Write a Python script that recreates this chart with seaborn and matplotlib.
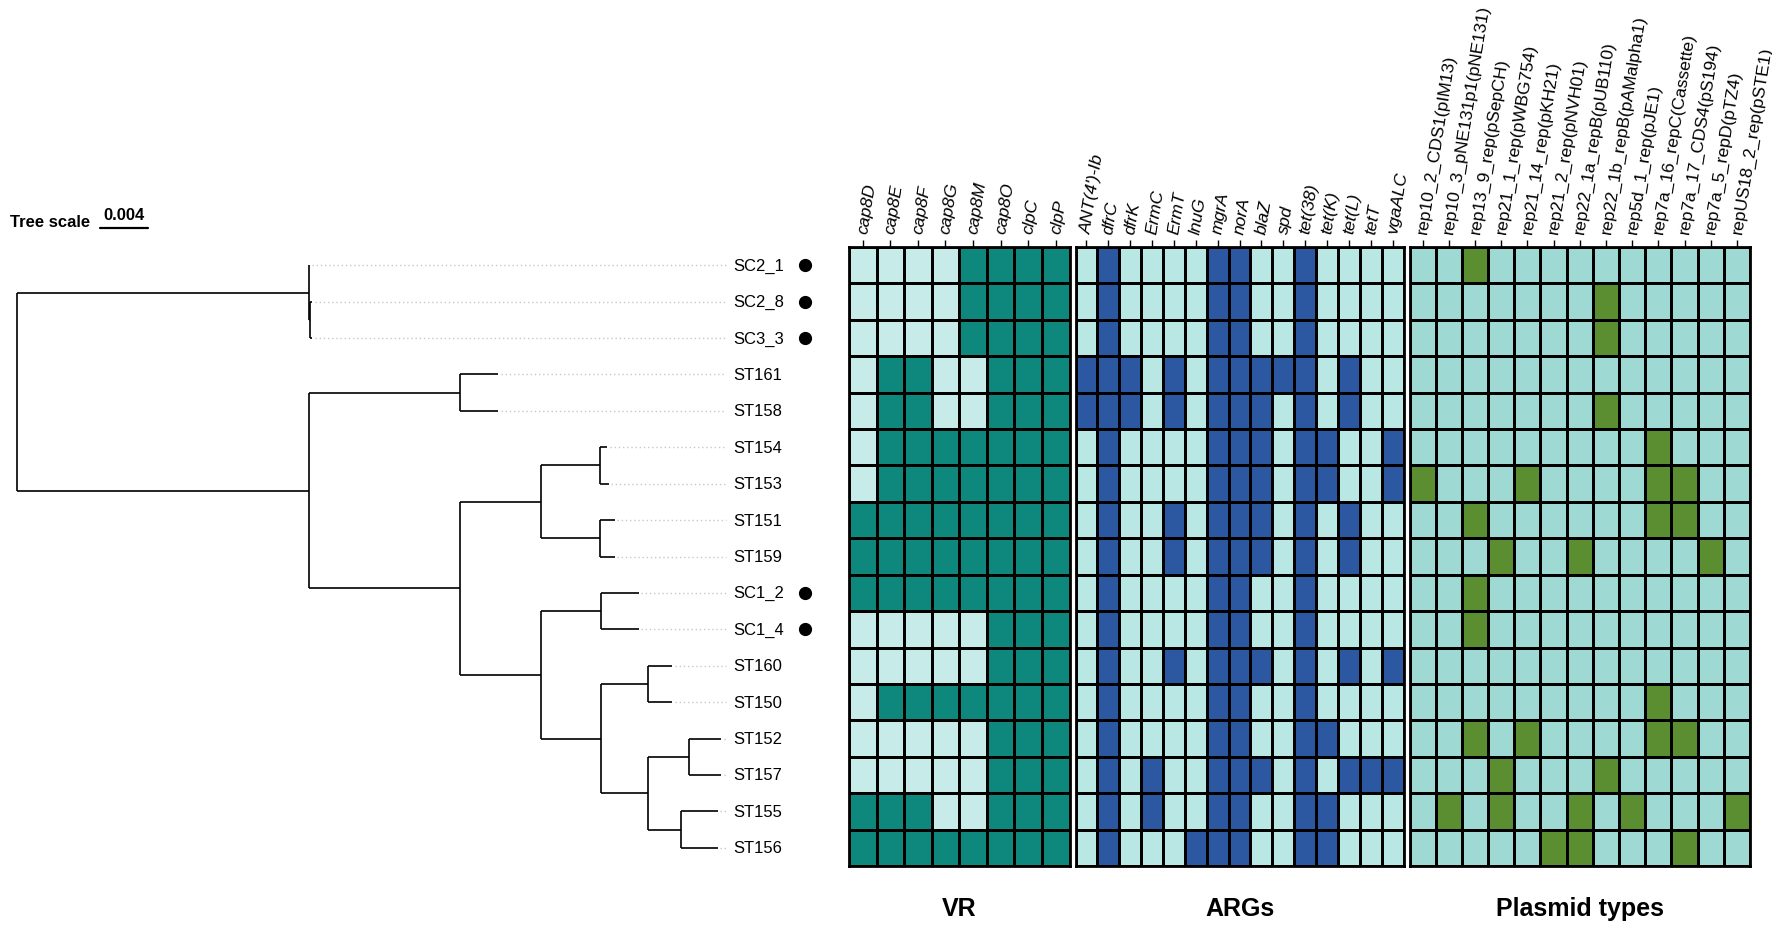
import numpy as np
import pandas as pd
import seaborn as sns
import matplotlib
matplotlib.use('Agg')
from matplotlib import pyplot as plt
from matplotlib.colors import ListedColormap

# ---- data ----
rows = ['SC2_1', 'SC2_8', 'SC3_3', 'ST161', 'ST158', 'ST154', 'ST153', 'ST151',
        'ST159', 'SC1_2', 'SC1_4', 'ST160', 'ST150', 'ST152', 'ST157', 'ST155', 'ST156']
marked = ['SC2_1', 'SC2_8', 'SC3_3', 'SC1_2', 'SC1_4']

vr_cols = ['cap8D', 'cap8E', 'cap8F', 'cap8G', 'cap8M', 'cap8O', 'clpC', 'clpP']
vr = [[0, 0, 0, 0, 1, 1, 1, 1],
      [0, 0, 0, 0, 1, 1, 1, 1],
      [0, 0, 0, 0, 1, 1, 1, 1],
      [0, 1, 1, 0, 0, 1, 1, 1],
      [0, 1, 1, 0, 0, 1, 1, 1],
      [0, 1, 1, 1, 1, 1, 1, 1],
      [0, 1, 1, 1, 1, 1, 1, 1],
      [1, 1, 1, 1, 1, 1, 1, 1],
      [1, 1, 1, 1, 1, 1, 1, 1],
      [1, 1, 1, 1, 1, 1, 1, 1],
      [0, 0, 0, 0, 0, 1, 1, 1],
      [0, 0, 0, 0, 0, 1, 1, 1],
      [0, 1, 1, 1, 1, 1, 1, 1],
      [0, 0, 0, 0, 0, 1, 1, 1],
      [0, 0, 0, 0, 0, 1, 1, 1],
      [1, 1, 1, 0, 0, 1, 1, 1],
      [1, 1, 1, 1, 1, 1, 1, 1]]

arg_cols = ["ANT(4')-Ib", 'dfrC', 'dfrK', 'ErmC', 'ErmT', 'lnuG', 'mgrA', 'norA',
            'blaZ', 'spd', 'tet(38)', 'tet(K)', 'tet(L)', 'tetT', 'vgaALC']
args = [[0, 1, 0, 0, 0, 0, 1, 1, 0, 0, 1, 0, 0, 0, 0],
        [0, 1, 0, 0, 0, 0, 1, 1, 0, 0, 1, 0, 0, 0, 0],
        [0, 1, 0, 0, 0, 0, 1, 1, 0, 0, 1, 0, 0, 0, 0],
        [1, 1, 1, 0, 1, 0, 1, 1, 1, 1, 1, 0, 1, 0, 0],
        [1, 1, 1, 0, 1, 0, 1, 1, 1, 0, 1, 0, 1, 0, 0],
        [0, 1, 0, 0, 0, 0, 1, 1, 1, 0, 1, 1, 0, 0, 1],
        [0, 1, 0, 0, 0, 0, 1, 1, 1, 0, 1, 1, 0, 0, 1],
        [0, 1, 0, 0, 1, 0, 1, 1, 1, 0, 1, 0, 1, 0, 0],
        [0, 1, 0, 0, 1, 0, 1, 1, 1, 0, 1, 0, 1, 0, 0],
        [0, 1, 0, 0, 0, 0, 1, 1, 0, 0, 1, 0, 0, 0, 0],
        [0, 1, 0, 0, 0, 0, 1, 1, 0, 0, 1, 0, 0, 0, 0],
        [0, 1, 0, 0, 1, 0, 1, 1, 1, 0, 1, 0, 1, 0, 1],
        [0, 1, 0, 0, 0, 0, 1, 1, 0, 0, 1, 0, 0, 0, 0],
        [0, 1, 0, 0, 0, 0, 1, 1, 0, 0, 1, 1, 0, 0, 0],
        [0, 1, 0, 1, 0, 0, 1, 1, 1, 0, 1, 0, 1, 1, 1],
        [0, 1, 0, 1, 0, 0, 1, 1, 0, 0, 1, 1, 0, 0, 0],
        [0, 1, 0, 0, 0, 1, 1, 1, 0, 0, 1, 1, 0, 0, 0]]

plasmid_cols = ['rep10_2_CDS1(pIM13)', 'rep10_3_pNE131p1(pNE131)', 'rep13_9_rep(pSepCH)',
                'rep21_1_rep(pWBG754)', 'rep21_14_rep(pKH21)', 'rep21_2_rep(pNVH01)',
                'rep22_1a_repB(pUB110)', 'rep22_1b_repB(pAMalpha1)', 'rep5d_1_rep(pJE1)',
                'rep7a_16_repC(Cassette)', 'rep7a_17_CDS4(pS194)', 'rep7a_5_repD(pTZ4)',
                'repUS18_2_rep(pSTE1)']
plasmids = [[0, 0, 1, 0, 0, 0, 0, 0, 0, 0, 0, 0, 0],
            [0, 0, 0, 0, 0, 0, 0, 1, 0, 0, 0, 0, 0],
            [0, 0, 0, 0, 0, 0, 0, 1, 0, 0, 0, 0, 0],
            [0, 0, 0, 0, 0, 0, 0, 0, 0, 0, 0, 0, 0],
            [0, 0, 0, 0, 0, 0, 0, 1, 0, 0, 0, 0, 0],
            [0, 0, 0, 0, 0, 0, 0, 0, 0, 1, 0, 0, 0],
            [1, 0, 0, 0, 1, 0, 0, 0, 0, 1, 1, 0, 0],
            [0, 0, 1, 0, 0, 0, 0, 0, 0, 1, 1, 0, 0],
            [0, 0, 0, 1, 0, 0, 1, 0, 0, 0, 0, 1, 0],
            [0, 0, 1, 0, 0, 0, 0, 0, 0, 0, 0, 0, 0],
            [0, 0, 1, 0, 0, 0, 0, 0, 0, 0, 0, 0, 0],
            [0, 0, 0, 0, 0, 0, 0, 0, 0, 0, 0, 0, 0],
            [0, 0, 0, 0, 0, 0, 0, 0, 0, 1, 0, 0, 0],
            [0, 0, 1, 0, 1, 0, 0, 0, 0, 1, 1, 0, 0],
            [0, 0, 0, 1, 0, 0, 0, 1, 0, 0, 0, 0, 0],
            [0, 1, 0, 1, 0, 0, 1, 0, 1, 0, 0, 0, 1],
            [0, 0, 0, 0, 0, 1, 1, 0, 0, 0, 1, 0, 0]]

# tree: internal nodes -> children, depths in substitutions/site
children = {'root': ['n_sc', 'n_st'], 'n_sc': ['SC2_1', 'n_sc2'], 'n_sc2': ['SC2_8', 'SC3_3'],
            'n_st': ['n_161', 'n_c'], 'n_161': ['ST161', 'ST158'], 'n_c': ['n_d', 'n_e'],
            'n_d': ['n_154', 'n_151'], 'n_154': ['ST154', 'ST153'], 'n_151': ['ST151', 'ST159'],
            'n_e': ['n_sc1', 'n_f'], 'n_sc1': ['SC1_2', 'SC1_4'], 'n_f': ['n_160', 'n_g'],
            'n_160': ['ST160', 'ST150'], 'n_g': ['n_152', 'n_155'],
            'n_152': ['ST152', 'ST157'], 'n_155': ['ST155', 'ST156']}
depth = {'root': 0.0, 'n_sc': 0.0243, 'n_sc2': 0.02445, 'n_st': 0.0243, 'n_161': 0.0369,
         'n_c': 0.0369, 'n_d': 0.0437, 'n_154': 0.0486, 'n_151': 0.0486, 'n_e': 0.0437,
         'n_sc1': 0.0487, 'n_f': 0.0487, 'n_160': 0.0526, 'n_g': 0.0526, 'n_152': 0.0560,
         'n_155': 0.0553,
         'SC2_1': 0.02435, 'SC2_8': 0.0246, 'SC3_3': 0.0246, 'ST161': 0.0401, 'ST158': 0.0401,
         'ST154': 0.0492, 'ST153': 0.0493, 'ST151': 0.0498, 'ST159': 0.0498, 'SC1_2': 0.0518,
         'SC1_4': 0.0518, 'ST160': 0.0546, 'ST150': 0.0546, 'ST152': 0.0587, 'ST157': 0.0587,
         'ST155': 0.0584, 'ST156': 0.0584}
tree_scale = 0.004

# ---- figure ----
sns.set_style('white')
plt.rcParams['font.family'] = ['Liberation Sans', 'DejaVu Sans']
plt.rcParams['text.color'] = 'black'
plt.rcParams['xtick.color'] = 'black'

W, H = 1772, 928
fig = plt.figure(figsize=(W / 100, H / 100), dpi=100)


def box(x0, x1, y0, y1):
    return [x0 / W, 1 - y1 / H, (x1 - x0) / W, (y1 - y0) / H]


top, bottom = 248, 867
px_per_unit = 12000.0


def block(data, cols, x0, x1, light, dark, title, style):
    ax = fig.add_axes(box(x0, x1, top, bottom))
    df = pd.DataFrame(data, index=rows, columns=cols)
    sns.heatmap(df, ax=ax, cmap=ListedColormap([light, dark]), vmin=0, vmax=1,
                cbar=False, linewidths=1.9, linecolor='black')
    ax.xaxis.tick_top()
    ax.set_xticks(np.arange(len(cols)) + 0.5)
    ax.set_xticklabels(cols, rotation=81, ha='left', va='center',
                       rotation_mode='anchor', fontsize=12.6, style=style, color='black')
    ax.tick_params(axis='x', length=5, width=1, pad=5, top=True, bottom=False,
                   color='black')
    ax.set_yticks([])
    ax.set_xlabel('')
    ax.set_ylabel('')
    for s in ax.spines.values():
        s.set_visible(True)
        s.set_linewidth(2.0)
        s.set_color('black')
    ax.text(0.5, -0.068, title, transform=ax.transAxes, ha='center', va='center',
            fontsize=18, fontweight='bold')
    return ax


block(vr, vr_cols, 849, 1069.5, '#c6ebe8', '#0e877d', 'VR', 'italic')
block(args, arg_cols, 1075.5, 1403.5, '#b9e8e4', '#2b58a0', 'ARGs', 'italic')
block(plasmids, plasmid_cols, 1409.5, 1750, '#9edad3', '#5b8d31', 'Plasmid types', 'normal')

# ---- tree ----
tax = fig.add_axes(box(0, 849, top, bottom))
tax.set_xlim(-17 / px_per_unit, 832 / px_per_unit)
tax.set_ylim(len(rows), 0)
tax.axis('off')

ypos = {name: i + 0.5 for i, name in enumerate(rows)}


def node_y(n):
    if n not in ypos:
        ypos[n] = np.mean([node_y(c) for c in children[n]])
    return ypos[n]


node_y('root')
for parent, kids in children.items():
    ys = [ypos[k] for k in kids]
    tax.plot([depth[parent]] * 2, [min(ys), max(ys)], color='black', lw=1.2,
             solid_capstyle='butt')
    for k in kids:
        tax.plot([depth[parent], depth[k]], [ypos[k]] * 2, color='black', lw=1.2,
                 solid_capstyle='butt')

label_x = 716 / px_per_unit
for name in rows:
    tax.plot([depth[name] + 0.0002, label_x - 0.0006], [ypos[name]] * 2,
             color='#c8c8c8', lw=1.0, ls=(0, (1, 2)))
    tax.text(label_x, ypos[name], name, ha='left', va='center', fontsize=12)
    if name in marked:
        tax.plot(788 / px_per_unit, ypos[name], 'o', color='black', ms=8.5)

# tree scale bar
bar_x0 = 83 / px_per_unit
tax.plot([bar_x0, bar_x0 + tree_scale], [-0.52, -0.52], color='black', lw=1.6, clip_on=False)
tax.text(bar_x0 + tree_scale / 2, -0.68, f'{tree_scale}', ha='center', va='bottom',
         fontsize=12, fontweight='bold', family=['Liberation Sans Narrow', 'Liberation Sans'])
tax.text(bar_x0 - 10 / px_per_unit, -0.7, 'Tree scale', ha='right', va='center',
         fontsize=12, fontweight='bold', family=['Liberation Sans Narrow', 'Liberation Sans'])

fig.savefig('out.png', dpi=100)
